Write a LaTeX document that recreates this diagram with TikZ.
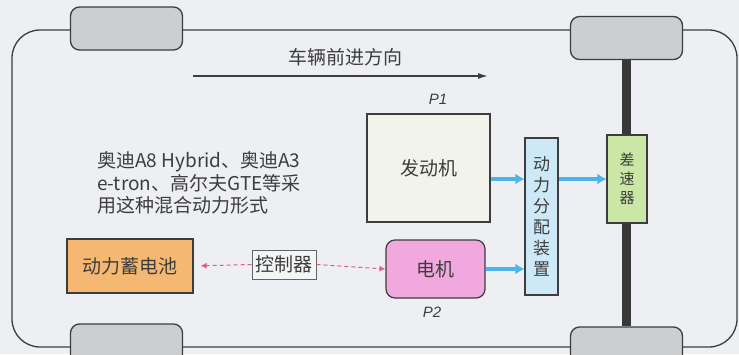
\documentclass[tikz,border=0pt]{standalone}
\usepackage{fontspec}
\setmainfont{Noto Sans CJK SC}
\newfontfamily\plabelfont{Liberation Sans}
\usetikzlibrary{arrows.meta}
\definecolor{PaperBg}{HTML}{EDEFF2}
\definecolor{InkGray}{HTML}{3D3D3D}
\definecolor{WheelGray}{HTML}{CDCED0}
\definecolor{AxleDark}{HTML}{383838}
\definecolor{EngineFill}{HTML}{F2F4EC}
\definecolor{DistFill}{HTML}{CDE8F6}
\definecolor{DiffFill}{HTML}{CAE7A6}
\definecolor{MotorFill}{HTML}{F0A8DE}
\definecolor{BattFill}{HTML}{F5B872}
\definecolor{CtrlFill}{HTML}{F4F6F6}
\definecolor{FlowBlue}{HTML}{4DB4EA}
\definecolor{LinkPink}{HTML}{DF5C8E}

\begin{document}
\begin{tikzpicture}[x=1pt, y=-1pt,
  body/.style={draw=InkGray, line width=1.3pt, rounded corners=28pt},
  wheel/.style={draw=InkGray, line width=1.3pt, fill=WheelGray, rounded corners=9pt, minimum width=112pt, minimum height=43pt},
  part/.style={draw=InkGray, line width=1.2pt, inner sep=0pt, text=InkGray, font=\fontsize{19}{19}\selectfont, align=center},
  label/.style={text=InkGray, font=\fontsize{19}{22.5}\selectfont, inner sep=0pt},
  plabel/.style={text=InkGray, font=\plabelfont\itshape\fontsize{15}{15}\selectfont, inner sep=0pt},
  axle/.style={line width=9pt, AxleDark},
  flow/.style={-{Latex[length=9pt, width=11pt]}, line width=4pt, FlowBlue},
  link/.style={-{Latex[length=6pt, width=6pt]}, line width=1pt, LinkPink, dash pattern=on 4pt off 3pt},
  dir/.style={-{Latex[length=10pt, width=6pt]}, line width=1.4pt, InkGray}
]
\fill[PaperBg] (0,0) rectangle (739,354);
\clip (0,0) rectangle (739,354);

% car body and wheels
\draw[body] (12,30) rectangle (737,347);
\node[wheel] (wheelFL) at (126.5,28.5) {};
\node[wheel] (wheelFR) at (626.5,38) {};
\node[wheel] (wheelRL) at (126.5,345.5) {};
\node[wheel] (wheelRR) at (626.5,348.5) {};
\draw[axle] (wheelFR.south) -- (wheelRR.north);

% driving direction
\coordinate (dirStart) at (193,76);
\coordinate (dirEnd) at (488,76);
\draw[dir] (dirStart) -- (dirEnd);
\node[label] (dirText) at (345,57) {车辆前进方向};

% drive train
\node[part, fill=EngineFill, minimum width=123pt, minimum height=108pt] (engine) at (428.5,168) {发动机};
\node[part, fill=DistFill, minimum width=33pt, minimum height=157pt, font=\fontsize{17}{21}\selectfont] (dist) at (541.5,216.5) {动\\力\\分\\配\\装\\置};
\node[part, fill=DiffFill, minimum width=40pt, minimum height=88pt, font=\fontsize{15}{19}\selectfont] (diff) at (627,179) {差\\速\\器};
\node[part, fill=MotorFill, rounded corners=9pt, minimum width=99pt, minimum height=58pt] (motor) at (435.5,269) {电机};
\node[part, fill=BattFill, minimum width=126pt, minimum height=54pt] (battery) at (130,266) {动力蓄电池};
\node[part, fill=CtrlFill, draw=InkGray!80, line width=1pt, minimum width=64pt, minimum height=29pt] (ctrl) at (284,264.5) {控制器};
\node[plabel] (p1) at (438,99) {P1};
\node[plabel] (p2) at (432,312) {P2};

% note
\node[label, anchor=west, align=left] (note) at (97,183) {奥迪A8 Hybrid、奥迪A3\\e-tron、高尔夫GTE等采\\用这种混合动力形式};

% power and control flow
\draw[flow] (engine.east |- diff.west) -- (dist.west |- diff.west);
\draw[flow] (dist.east |- diff.west) -- (diff.west);
\draw[flow] (motor.east) -- (dist.west |- motor.east);
\draw[link, shorten >=7pt] (ctrl.west) -- (battery.east);
\draw[link] (ctrl.east) -- (motor.west);
\end{tikzpicture}
\end{document}
